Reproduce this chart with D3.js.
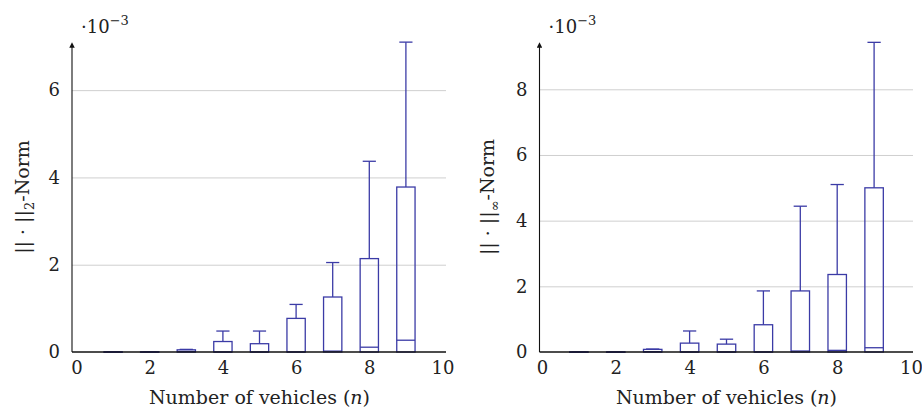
<!DOCTYPE html>
<html>
<head>
<meta charset="utf-8">
<script src="https://cdn.jsdelivr.net/npm/d3@7"></script>
<style>
    body { margin: 0; background: #fff; }
    svg text { font-family: "DejaVu Serif", "Liberation Serif", serif; fill: #222; }
    .grid line { stroke: #cfcfcf; stroke-width: 1; }
    .grid .domain { display: none; }
    .tick text { font-size: 18px; font-family: "DejaVu Serif", serif; }
    .box { fill: none; stroke: #3b3ba6; stroke-width: 1.3; }
</style>
</head>
<body>
<div id="chart"></div>
<script>
"use strict";

// number of vehicles n
var vehicles = [1, 2, 3, 4, 5, 6, 7, 8, 9];

// ||.||_2 norm, values in 1e-3
var l2Lower  = [0, 0, 0, 0, 0, 0, 0, 0, 0];
var l2Q1     = [0, 0, 0, 0, 0, 0, 0, 0, 0];
var l2Median = [0, 0, 0.01, 0, 0, 0, 0.02, 0.11, 0.27];
var l2Q3     = [0.005, 0.005, 0.05, 0.24, 0.19, 0.77, 1.26, 2.14, 3.78];
var l2Upper  = [0.005, 0.005, 0.06, 0.48, 0.48, 1.09, 2.05, 4.37, 7.1];

// ||.||_inf norm, values in 1e-3
var infLower  = [0, 0, 0, 0, 0, 0, 0, 0, 0];
var infQ1     = [0, 0, 0, 0, 0, 0, 0, 0, 0];
var infMedian = [0, 0, 0.01, 0, 0, 0, 0.03, 0.05, 0.13];
var infQ3     = [0.005, 0.005, 0.08, 0.27, 0.24, 0.83, 1.86, 2.36, 5.0];
var infUpper  = [0.005, 0.005, 0.09, 0.64, 0.39, 1.86, 4.44, 5.1, 9.43];

var xTicks = [0, 2, 4, 6, 8, 10];
var l2Ticks = [0, 2, 4, 6];
var infTicks = [0, 2, 4, 6, 8];

var width = 922, height = 415;

var svg = d3.select("#chart").append("svg")
    .attr("width", width)
    .attr("height", height);

svg.append("defs").append("marker")
    .attr("id", "arrow")
    .attr("viewBox", "0 0 6 6")
    .attr("refX", 3).attr("refY", 3)
    .attr("markerWidth", 5).attr("markerHeight", 5)
    .attr("orient", "auto")
    .append("path")
    .attr("d", "M0,0 L6,3 L0,6 z")
    .attr("fill", "#111");

function boxPlot(opts) {
    var g = svg.append("g");

    var x = d3.scaleLinear().domain([0, 10]).range(opts.xRange);
    var y = d3.scaleLinear().domain([0, opts.yMax]).range([352, 43]);

    // horizontal grid lines
    g.append("g")
        .attr("class", "grid")
        .attr("transform", "translate(" + opts.axisX + ",0)")
        .call(d3.axisRight(y).tickValues(opts.yTicks.slice(1))
            .tickSize(opts.gridEnd - opts.axisX).tickFormat(""));

    // boxes
    var bw = 0.5, cw = 0.36;
    var data = vehicles.map(function(n, i) {
        return {n: n, lo: opts.lower[i], q1: opts.q1[i], med: opts.median[i],
                q3: opts.q3[i], hi: opts.upper[i]};
    });
    var boxes = g.append("g").selectAll("g").data(data).enter().append("g");

    boxes.append("line").attr("class", "box")
        .attr("x1", function(d) { return x(d.n); })
        .attr("x2", function(d) { return x(d.n); })
        .attr("y1", function(d) { return y(d.q3); })
        .attr("y2", function(d) { return y(d.hi); });
    boxes.append("line").attr("class", "box")
        .attr("x1", function(d) { return x(d.n - cw / 2); })
        .attr("x2", function(d) { return x(d.n + cw / 2); })
        .attr("y1", function(d) { return y(d.hi); })
        .attr("y2", function(d) { return y(d.hi); });
    boxes.append("rect").attr("class", "box")
        .attr("x", function(d) { return x(d.n - bw / 2); })
        .attr("width", function(d) { return x(d.n + bw / 2) - x(d.n - bw / 2); })
        .attr("y", function(d) { return y(d.q3); })
        .attr("height", function(d) { return Math.max(0.5, y(d.q1) - y(d.q3)); });
    boxes.append("line").attr("class", "box")
        .attr("x1", function(d) { return x(d.n - bw / 2); })
        .attr("x2", function(d) { return x(d.n + bw / 2); })
        .attr("y1", function(d) { return y(d.med); })
        .attr("y2", function(d) { return y(d.med); });

    // axis lines
    g.append("line")
        .attr("x1", opts.axisX).attr("x2", opts.gridEnd)
        .attr("y1", y(0)).attr("y2", y(0))
        .attr("stroke", "#111").attr("stroke-width", 1.3);
    g.append("line")
        .attr("x1", opts.axisX).attr("x2", opts.axisX)
        .attr("y1", y(0)).attr("y2", y.range()[1] + 2)
        .attr("stroke", "#111").attr("stroke-width", 1.1)
        .attr("marker-end", "url(#arrow)");

    // tick labels
    var xAxis = g.append("g")
        .attr("transform", "translate(0," + y(0) + ")")
        .call(d3.axisBottom(x).tickValues(xTicks).tickSize(0).tickPadding(9));
    xAxis.select(".domain").remove();

    var yAxis = g.append("g")
        .attr("transform", "translate(" + opts.axisX + ",0)")
        .call(d3.axisLeft(y).tickValues(opts.yTicks).tickSize(0).tickPadding(12));
    yAxis.select(".domain").remove();

    // scale factor label
    var sf = g.append("text")
        .attr("x", opts.axisX + 9)
        .attr("y", 33)
        .style("font-size", "18px");
    sf.append("tspan").text("\u00b710");
    sf.append("tspan").attr("dy", -8).style("font-size", "13px").text("\u22123");

    // axis titles
    g.append("text")
        .attr("x", (opts.xRange[0] + opts.xRange[1]) / 2)
        .attr("y", 404)
        .attr("text-anchor", "middle")
        .style("font-size", "19px")
        .html("Number of vehicles (<tspan font-style='italic'>n</tspan>)");

    var yt = g.append("text")
        .attr("transform", "translate(" + opts.titleX + ",197) rotate(-90)")
        .attr("text-anchor", "middle")
        .style("font-size", "19px");
    yt.append("tspan").text("|| \u00b7 ||");
    yt.append("tspan").attr("dy", 5).style("font-size", "13px").text(opts.sub);
    yt.append("tspan").attr("dy", -5).text("-Norm");
}

boxPlot({
    xRange: [76.5, 442.5], axisX: 72, gridEnd: 446, titleX: 29,
    yMax: 7.08, yTicks: l2Ticks, sub: "2",
    lower: l2Lower, q1: l2Q1, median: l2Median, q3: l2Q3, upper: l2Upper
});

boxPlot({
    xRange: [542, 911], axisX: 539.5, gridEnd: 913, titleX: 494,
    yMax: 9.41, yTicks: infTicks, sub: "\u221e",
    lower: infLower, q1: infQ1, median: infMedian, q3: infQ3, upper: infUpper
});
</script>
</body>
</html>
